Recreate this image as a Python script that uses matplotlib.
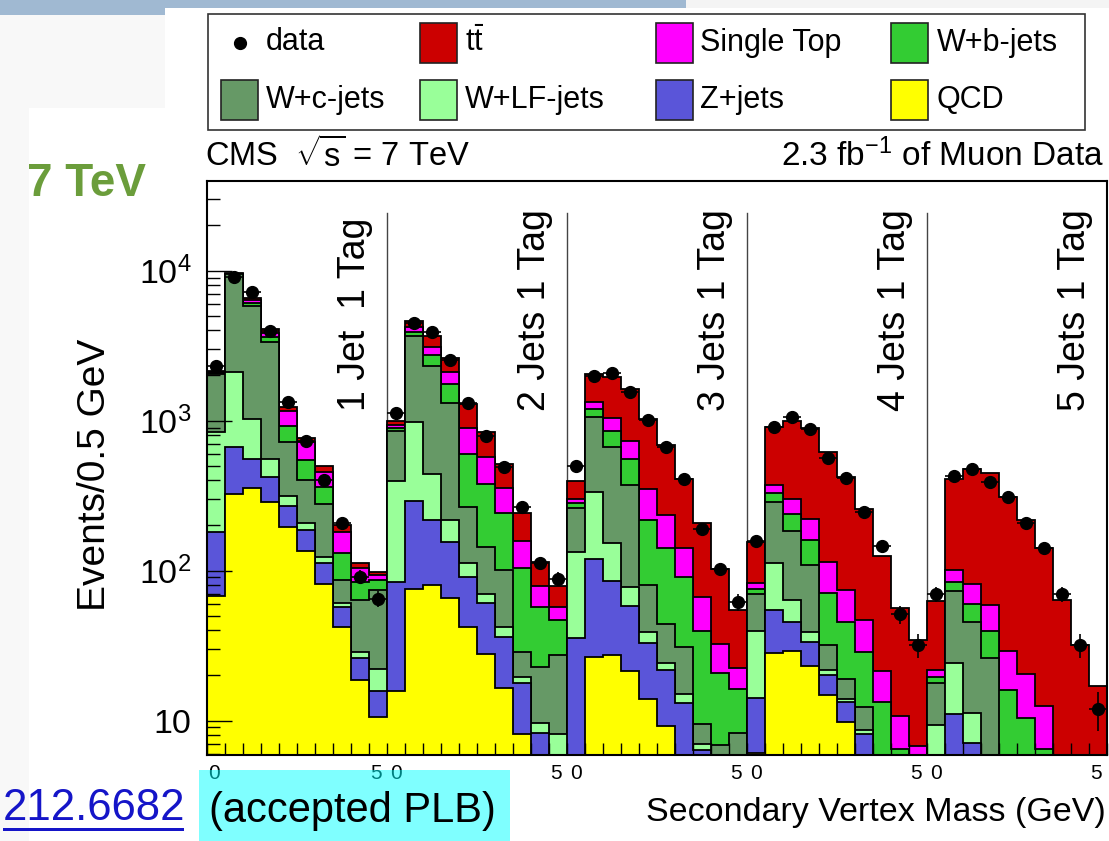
import numpy as np
import matplotlib
matplotlib.use('Agg')
import matplotlib.pyplot as plt
from matplotlib.patches import Rectangle
from matplotlib.lines import Line2D
from matplotlib.ticker import LogLocator, NullFormatter

plt.rcParams['font.family'] = ['Liberation Sans', 'DejaVu Sans']
plt.rcParams['mathtext.fontset'] = 'custom'
plt.rcParams['mathtext.rm'] = 'Liberation Sans'
plt.rcParams['mathtext.it'] = 'Liberation Sans:italic'
plt.rcParams['mathtext.bf'] = 'Liberation Sans:bold'

# ---------------- data (5 jet-multiplicity panels x 10 bins of 0.5 GeV) ----------------
panel_labels = ['1 Jet  1 Tag', '2 Jets 1 Tag', '3 Jets 1 Tag', '4 Jets 1 Tag', '5 Jets 1 Tag']
n_panels = 5
bins_per_panel = 10
bin_width = 0.5

qcd = [68, 325, 354, 288, 196, 136, 81, 42, 18.7, 10.6,
       15.8, 75, 80, 65.5, 42, 27.7, 16.4, 8.2, 0, 0,
       0, 26.5, 27.4, 21.5, 13.9, 9.2, 0, 0, 0, 0,
       6.1, 28.4, 29.3, 23.2, 14.8, 9.8, 0, 0, 0, 0,
       0, 0, 0, 0, 0, 0, 0, 0, 0, 0]
zjets = [112, 340, 202, 135, 75, 51, 31, 15.5, 7.6, 5.2,
         67.8, 218, 138, 90.5, 49, 32.9, 19.9, 9.7, 8.3, 0,
         35.4, 93.5, 58.4, 37, 18.9, 12.6, 13.2, 6.4, 0, 0,
         8, 26.3, 16.4, 10.4, 5.4, 3.5, 8.1, 0, 0, 0,
         0, 11.1, 7.1, 0, 0, 0, 0, 0, 0, 0]
wlf = [665, 1455, 470, 133, 45, 20, 12, 3.5, 2.5, 6.3,
       312, 683, 222, 62, 21, 9, 6.1, 1.7, 1.3, 8.2,
       98.6, 216, 68.2, 19, 6, 2.6, 1.9, 0.6, 0, 0,
       25.7, 57.3, 18.1, 5.2, 1.6, 0.7, 0.6, 0, 0, 0,
       9.4, 13.3, 4.2, 0, 0, 0, 0, 0, 0, 0]
wc = [1205, 7340, 4814, 2804, 402, 195, 153, 26, 35, 51.9,
      462, 2694, 1875, 1088, 153, 74.9, 58.6, 9.2, 13.3, 19.2,
      127, 727, 511, 294.5, 41.5, 19.8, 15.7, 2.5, 6.9, 8.3,
      30.2, 174, 121.2, 70.2, 10.2, 5, 3.7, 0, 0, 0,
      8.5, 49.2, 34.4, 26.3, 0, 0, 0, 0, 0, 0]
wb = [40, 60, 230, 240, 204, 145, 86, 44, 20.7, 12,
      40, 250, 425, 444, 335, 233.5, 140, 75.2, 34.6, 19.5,
      20, 129, 188, 184, 137.7, 96.8, 60.4, 30.3, 14, 7.9,
      5.2, 42, 53, 51, 38.7, 26.7, 16.4, 13.3, 6.5, 0,
      1.6, 10, 14.3, 13.3, 16, 10.4, 6.5, 0, 0, 0]
single_top = [25, 40, 310, 230, 233, 178, 94, 51, 19.5, 7.5,
              37, 315, 370, 370, 289, 192, 113, 54, 21.5, 10.6,
              20, 148, 184, 180, 131, 94, 49.8, 27.2, 11.5, 6.1,
              7.2, 44, 63, 60, 44.3, 28.6, 18.1, 8.1, 4.3, 6.8,
              2.3, 17.4, 21, 19.4, 13.3, 10.1, 6, 0, 0, 0]
ttbar = [25, 40, 200, 235, 85, 42, 42, 20, 8, 4,
         60, 405, 560, 510, 397, 267, 158, 83, 35, 21.9,
         95, 697, 928, 882, 672, 454, 265, 140, 69.6, 32.4,
         73.6, 540, 699, 669, 506, 348.7, 211, 104.6, 45.3, 27.7,
         41, 305, 396, 387, 281.7, 197.5, 128.5, 63.8, 32, 16.9]
data = [2320, 9030, 7240, 3980, 1340, 729, 402, 209, 91, 65,
        1120, 4460, 3880, 2540, 1306, 791, 489, 267, 113, 88,
        501, 1985, 2090, 1560, 1011, 671, 406, 190, 102, 62,
        158, 912, 1052, 878, 566, 413, 245, 147, 51, 32,
        70, 428, 475, 392, 311, 207, 142, 70, 32, 12]

comp_names = ['QCD', 'Z+jets', 'W+LF-jets', 'W+c-jets', 'W+b-jets', 'Single Top', r'$\mathrm{t\bar{t}}$']
comp_values = [qcd, zjets, wlf, wc, wb, single_top, ttbar]
comp_colors = ['#ffff00', '#5a55d9', '#99ff99', '#669966', '#33cc33', '#ff00ff', '#cc0000']

# ---------------- figure ----------------
W, H = 1109, 841
fig = plt.figure(figsize=(W / 100, H / 100), dpi=100)
fig.patch.set_facecolor('white')


def fx(px):
    return px / W


def fy(py):
    return 1 - py / H


def frect(x0, y0, x1, y1, **kw):
    r = Rectangle((fx(x0), fy(y1)), fx(x1) - fx(x0), fy(y0) - fy(y1),
                  transform=fig.transFigure, **kw)
    fig.add_artist(r)
    return r


# slide decorations
frect(0, 0, W, 8, facecolor='#f4f4f4', edgecolor='none', zorder=0)
frect(0, 15, 165, 108, facecolor='#f8f8f8', edgecolor='none', zorder=0)
frect(0, 108, 29, H, facecolor='#f8f8f8', edgecolor='none', zorder=0)
frect(0, 0, 686, 8, facecolor='#a0b9d2', edgecolor='none', zorder=0)
frect(0, 8, 165, 15, facecolor='#a0b9d2', edgecolor='none', zorder=0)

ax = fig.add_axes([fx(206.7), fy(755), fx(1106.7) - fx(206.7), fy(181) - fy(755)])

edges = np.arange(0, n_panels * bins_per_panel + 1) * bin_width
centers = 0.5 * (edges[:-1] + edges[1:])
floor = 1.0

cum = np.cumsum(np.array(comp_values, dtype=float), axis=0)
for k in range(len(comp_values) - 1, -1, -1):
    ax.stairs(np.maximum(cum[k], floor), edges, baseline=floor, fill=True,
              facecolor=comp_colors[k], edgecolor='black', linewidth=1.3,
              zorder=1 + (len(comp_values) - k) * 0.01)

# panel separators
for p in range(1, n_panels):
    ax.axvline(p * bins_per_panel * bin_width, ymin=0, ymax=0.944, color='#444444',
               lw=1.0, zorder=0.5)

data_arr = np.array(data, dtype=float)
ax.errorbar(centers, data_arr, xerr=bin_width / 2, yerr=np.sqrt(data_arr), fmt='o',
            color='black', ms=8.5, elinewidth=1.2, capsize=0, zorder=5)

ax.set_yscale('log')
ax.set_xlim(edges[0], edges[-1])
ax.set_ylim(5.9, 39600)

ax.set_xticks(edges)
ax.tick_params(axis='x', which='major', direction='in', length=8.6, width=1.0,
               top=False, labelbottom=False)
ax.tick_params(axis='x', which='minor', bottom=False, top=False)
ax.set_yticks([10, 100, 1000, 10000])
ax.set_yticklabels(['10', r'$10^{2}$', r'$10^{3}$', r'$10^{4}$'])
ax.yaxis.set_minor_locator(LogLocator(base=10, subs=np.arange(2, 10), numticks=20))
ax.yaxis.set_minor_formatter(NullFormatter())
ax.tick_params(axis='y', which='major', direction='in', length=18, width=1.0,
               right=False, labelsize=24.5, pad=11)
ax.tick_params(axis='y', which='minor', direction='in', length=9.4, width=1.0, right=False)
for s in ax.spines.values():
    s.set_linewidth(1.5)

# panel labels
panel_width = bins_per_panel * bin_width
for p, lab in enumerate(panel_labels):
    ax.text((p + 1) * panel_width - 0.88, 0.600, lab, rotation=90, rotation_mode='anchor',
            ha='left', va='center', fontsize=27, transform=ax.get_xaxis_transform(), zorder=6)

# custom x tick labels
tl_kw = dict(fontsize=15, ha='center', va='center', transform=ax.get_xaxis_transform(),
             clip_on=False, fontstretch='condensed')
ax.text(0.2, -0.033, '0', **tl_kw)
for p in range(1, n_panels + 1):
    ax.text(p * panel_width - 0.3, -0.033, '5', **tl_kw)
    if p < n_panels:
        ax.text(p * panel_width + 0.27, -0.033, '0', **tl_kw)

fig.text(fx(1106), fy(813), 'Secondary Vertex Mass (GeV)', ha='right', va='center', fontsize=24.5)
fig.text(fx(95), fy(475), 'Events/0.5 GeV', rotation=90, ha='center', va='center', fontsize=28)
fig.text(fx(205), fy(156), r'CMS  $\sqrt{\mathrm{s}}$ = 7 TeV', ha='left', va='center', fontsize=23.5)
fig.text(fx(1104), fy(156), r'2.3 fb$^{\mathrm{-1}}$ of Muon Data', ha='right', va='center', fontsize=24)

# legend (framed box of handles and labels)
frect(208, 14, 1085, 130, facecolor='white', edgecolor='#333333', linewidth=1.2, zorder=3)
leg_rows = [42.5, 100]
leg_cols_box = [221, 420, 656, 891]
leg_cols_txt = [266, 465, 700, 937]
leg_entries = [(0, 0, 'data', None),
               (0, 1, comp_names[6], comp_colors[6]),
               (0, 2, comp_names[5], comp_colors[5]),
               (0, 3, comp_names[4], comp_colors[4]),
               (1, 0, comp_names[3], comp_colors[3]),
               (1, 1, comp_names[2], comp_colors[2]),
               (1, 2, comp_names[1], comp_colors[1]),
               (1, 3, comp_names[0], comp_colors[0])]
for r, c, name, col in leg_entries:
    yc = leg_rows[r]
    if col is None:
        fig.add_artist(Line2D([fx(leg_cols_box[c] + 19)], [fy(yc)], marker='o', ms=8.5,
                              color='black', ls='none', transform=fig.transFigure, zorder=4))
    else:
        frect(leg_cols_box[c], yc - 20, leg_cols_box[c] + 37, yc + 20, facecolor=col,
              edgecolor='#222222', linewidth=1.2, zorder=4)
    fig.text(fx(leg_cols_txt[c]), fy(yc), name, ha='left', va='center', fontsize=22, zorder=5)

# slide texts
fig.text(fx(27), fy(184), '7 TeV', ha='left', va='center', fontsize=33, fontweight='bold',
         color='#6b9d3b')
frect(199, 770, 510, H, facecolor='#00ffff', alpha=0.5, edgecolor='none', zorder=20)
fig.text(fx(209), fy(811), '(accepted PLB)', ha='left', va='center', fontsize=30, zorder=21)
fig.text(fx(3), fy(808), '212.6682', ha='left', va='center', fontsize=31.5, color='#1515c8',
         zorder=21)
frect(3, 828, 184, 830.5, facecolor='#1515c8', edgecolor='none', zorder=21)

fig.savefig('out.png', dpi=100, facecolor=fig.get_facecolor())
